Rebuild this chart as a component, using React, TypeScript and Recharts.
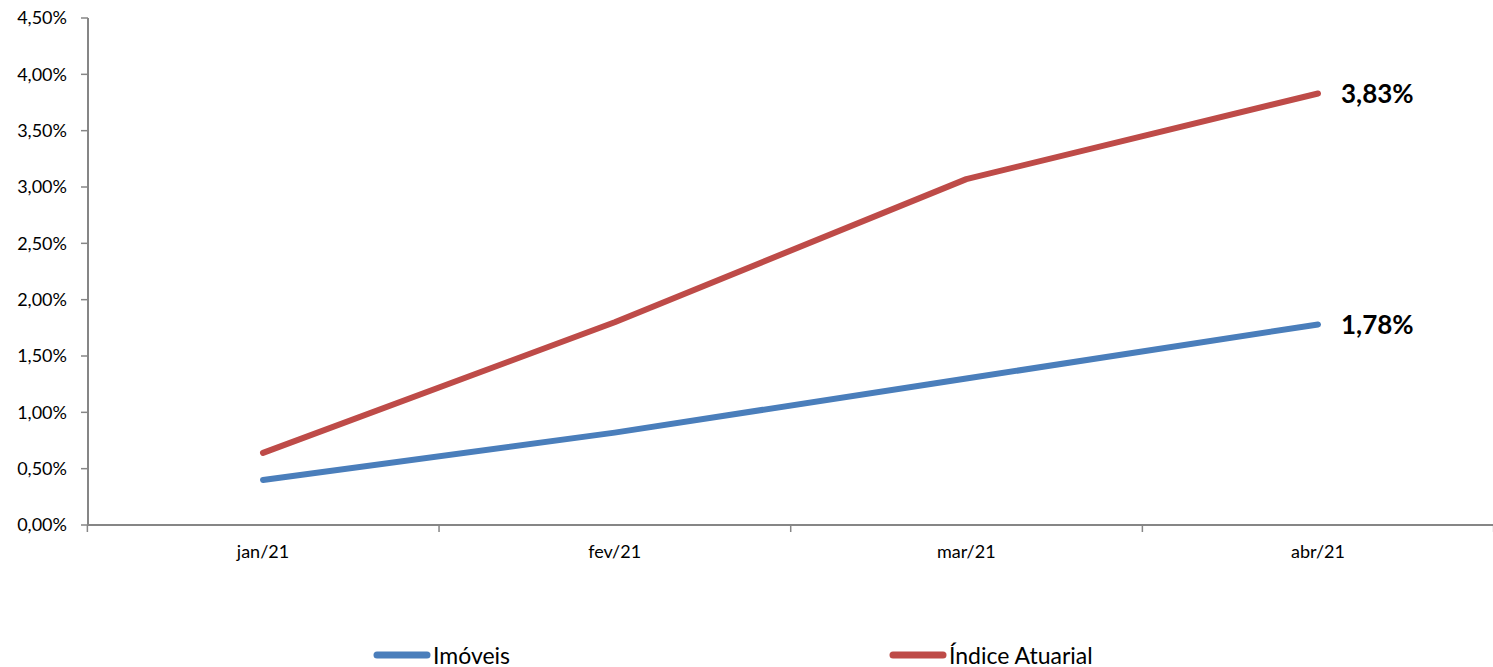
import { LineChart, Line, XAxis, YAxis, Legend, LabelList } from 'recharts';

const months = ['jan/21', 'fev/21', 'mar/21', 'abr/21'];
const imoveis = [0.4, 0.82, 1.3, 1.78];
const indiceAtuarial = [0.64, 1.8, 3.07, 3.83];
const yTicks = [0, 0.5, 1, 1.5, 2, 2.5, 3, 3.5, 4, 4.5];

const data = months.map((mes, i) => ({ mes, imoveis: imoveis[i], indice: indiceAtuarial[i] }));

const FONT = 'Lato, "Open Sans", sans-serif';
const AXIS = '#868686';
const BLUE = '#4A7EBB';
const RED = '#BE4B48';
const X_TICK = 7;
const X_GAP = 13;

const pct = (v: number) => `${v.toFixed(2).replace('.', ',')}%`;

const lastLabel = (props: any) => {
  const { x, y, index, value } = props;
  if (index !== months.length - 1) return null;
  return (
    <text x={x + 23} y={y} dy="0.35em" fontFamily={FONT} fontWeight={700} fontSize={26} fill="#000">
      {pct(value)}
    </text>
  );
};

// category label + tick marks on the band edges (Excel style)
const CategoryTick = (props: any) => {
  const { x, y, payload, index, width } = props;
  const band = (width || 1405) / months.length;
  const axisY = y - X_TICK - X_GAP;
  const edge = (ex: number) => (
    <line x1={ex} x2={ex} y1={axisY} y2={axisY + X_TICK} stroke={AXIS} strokeWidth={1.5} />
  );
  return (
    <g>
      {edge(x - band / 2)}
      {index === months.length - 1 && edge(x + band / 2)}
      <text x={x} y={y} dy="0.71em" textAnchor="middle" fontFamily={FONT} fontSize={18} fill="#000">
        {payload.value}
      </text>
    </g>
  );
};

const legendLefts = [373, 889];

const renderLegend = (props: any) => {
  const { payload = [] } = props;
  return (
    <div style={{ position: 'relative', width: 1493, height: 28 }}>
      {payload.map((item: any, i: number) => (
        <div
          key={item.value}
          style={{ position: 'absolute', left: legendLefts[i], top: 0, height: 28, display: 'flex', alignItems: 'center' }}
        >
          <svg width={58} height={10}>
            <line x1={4} y1={5} x2={54} y2={5} stroke={item.color} strokeWidth={7} strokeLinecap="round" />
          </svg>
          <span style={{ fontFamily: FONT, fontSize: 23, lineHeight: '28px', color: '#000', marginLeft: 2 }}>
            {item.value}
          </span>
        </div>
      ))}
    </div>
  );
};

export default function App() {
  return (
    <div style={{ position: 'absolute', left: 0, top: 0, background: '#fff' }}>
      <LineChart width={1493} height={667} data={data} margin={{ top: 18, right: 0, left: 0, bottom: 0 }}>
        <XAxis
          dataKey="mes"
          height={114}
          axisLine={{ stroke: AXIS, strokeWidth: 2 }}
          tickLine={false}
          tickSize={X_TICK}
          tickMargin={X_GAP}
          padding={{ left: 175, right: 175 }}
          tick={<CategoryTick />}
        />
        <YAxis
          domain={[0, 4.5]}
          ticks={yTicks}
          width={88}
          tickSize={7}
          tickMargin={14}
          tickFormatter={pct}
          axisLine={{ stroke: AXIS, strokeWidth: 2 }}
          tickLine={{ stroke: AXIS, strokeWidth: 1.5 }}
          tick={{ fontFamily: FONT, fontSize: 18, fill: '#000' }}
        />
        <Legend
          verticalAlign="bottom"
          content={renderLegend}
          wrapperStyle={{ left: 0, top: 641, width: 1493, height: 28 }}
        />
        <Line
          type="linear"
          dataKey="imoveis"
          name="Imóveis"
          stroke={BLUE}
          strokeWidth={6}
          strokeLinecap="round"
          strokeLinejoin="round"
          dot={false}
          isAnimationActive={false}
        >
          <LabelList dataKey="imoveis" content={lastLabel} />
        </Line>
        <Line
          type="linear"
          dataKey="indice"
          name="Índice Atuarial"
          stroke={RED}
          strokeWidth={6}
          strokeLinecap="round"
          strokeLinejoin="round"
          dot={false}
          isAnimationActive={false}
        >
          <LabelList dataKey="indice" content={lastLabel} />
        </Line>
      </LineChart>
    </div>
  );
}
